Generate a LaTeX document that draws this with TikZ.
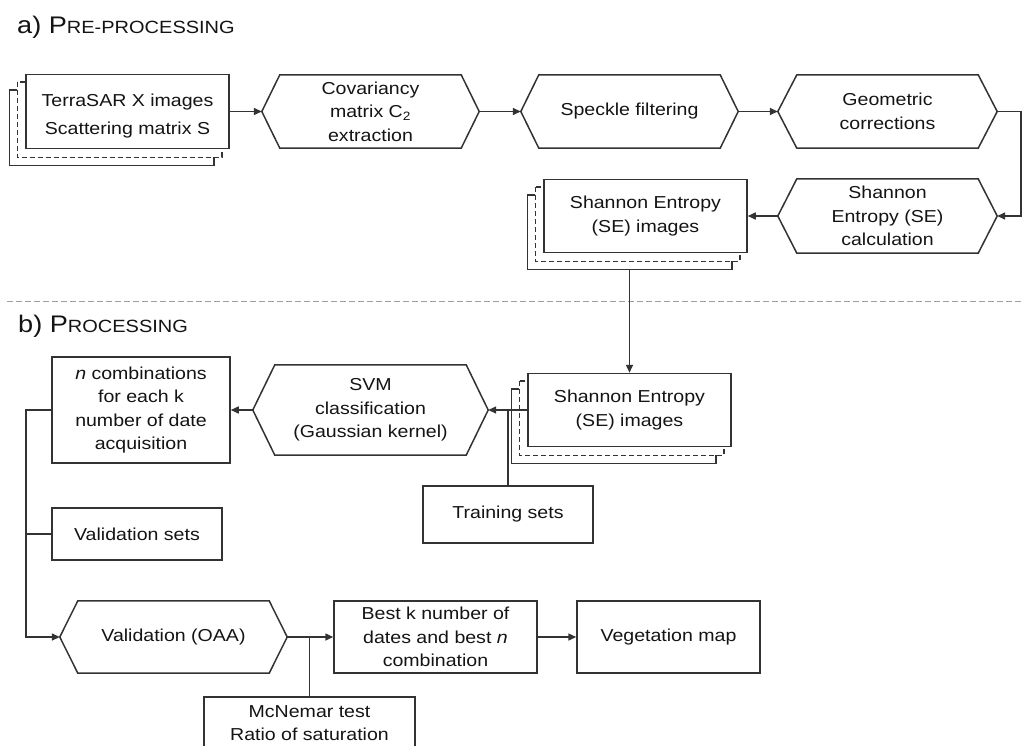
\documentclass[tikz,border=0pt]{standalone}
\usepackage{fontspec}
\setmainfont{Liberation Sans}[FakeStretch=1.13]
\usetikzlibrary{arrows.meta,calc,backgrounds}
\newcommand\bodyfont{\fontsize{17.3}{23.5}\selectfont}
\tikzset{
 ln/.style={line width=1.5pt, draw=black!80},
 arr/.style={ln, -{Triangle[length=8pt,width=7pt]}},
 box/.style={ln, fill=white, rectangle, inner sep=0pt, align=center, text=black!92, font=\bodyfont},
 hexnode/.style={rectangle, inner sep=0pt, align=center, text=black!92, font=\bodyfont},
 sep/.style={line width=1.2pt, draw=black!38, dash pattern=on 6pt off 3pt},
 title/.style={anchor=base west, inner sep=0pt, text=black!92},
}
\newcommand\hexdraw[2]{\draw[ln] (#1.west) -- ([xshift=#2pt]#1.north west) -- ([xshift=-#2pt]#1.north east) -- (#1.east) -- ([xshift=-#2pt]#1.south east) -- ([xshift=#2pt]#1.south west) -- cycle;}
\newcommand\stacklayers[1]{%
 \begin{pgfonlayer}{background}
 \draw[ln, fill=white] ($(#1.north west)+(-16,16)$) rectangle ($(#1.south east)+(-16,16)$);
 \draw[ln, fill=white, dash pattern=on 5pt off 3pt] ($(#1.north west)+(-8,8)$) rectangle ($(#1.south east)+(-8,8)$);
 \end{pgfonlayer}}
\begin{document}
\begin{tikzpicture}[x=1pt, y=-1pt]
\useasboundingbox (0,0) rectangle (1024,745);
\clip (0,0) rectangle (1024,745);
\begin{pgfonlayer}{background}
\fill[white] (0,0) rectangle (1024,745);
\end{pgfonlayer}

% titles
\node[title] (ta-title) at (17,33.3) {{\fontsize{24}{28}\selectfont a) P}{\fontsize{17.7}{20}\selectfont RE-PROCESSING}};
\node[title] (tb-title) at (18,332) {{\fontsize{24}{28}\selectfont b) P}{\fontsize{17.7}{20}\selectfont ROCESSING}};
\draw[sep] (7,301.7) -- (1023,301.7);

% a) pre-processing
\node[box, minimum width=203pt, minimum height=74pt] (ta) at (127.5,111.5) {\rule{0pt}{22pt}TerraSAR X images\\[4.5pt]Scattering matrix S};
\stacklayers{ta}
\node[hexnode, minimum width=217pt, minimum height=73pt] (cov) at (370.5,111.5) {Covariancy\\matrix C\textsubscript{2}\\extraction};
\hexdraw{cov}{18}
\node[hexnode, minimum width=217pt, minimum height=73pt] (spk) at (629.5,111.5) {Speckle filtering};
\hexdraw{spk}{18}
\node[hexnode, minimum width=219pt, minimum height=73pt] (geo) at (887.5,111.5) {Geometric\\corrections};
\hexdraw{geo}{19}
\node[hexnode, minimum width=219pt, minimum height=74pt] (sec) at (887.5,216) {Shannon\\Entropy (SE)\\calculation};
\hexdraw{sec}{19}
\node[box, minimum width=203pt, minimum height=73pt] (se1) at (645.5,216) {Shannon Entropy\\(SE) images};
\stacklayers{se1}

% b) processing
\node[box, minimum width=203pt, minimum height=73pt] (se2) at (629.5,410) {Shannon Entropy\\(SE) images};
\stacklayers{se2}
\node[hexnode, minimum width=235pt, minimum height=90pt] (svm) at (370.5,410) {SVM\\classification\\(Gaussian kernel)};
\hexdraw{svm}{22}
\node[box, minimum width=178pt, minimum height=106pt] (ncomb) at (141,410) {\textit{n} combinations\\for each k\\number of date\\acquisition};
\node[box, minimum width=170pt, minimum height=57pt] (train) at (508,514.5) {Training sets};
\node[box, minimum width=170pt, minimum height=52pt] (vset) at (137,534) {Validation sets};
\node[hexnode, minimum width=227pt, minimum height=72pt] (val) at (173.5,637) {Validation (OAA)};
\hexdraw{val}{18}
\node[box, minimum width=203pt, minimum height=72pt] (best) at (435.5,637) {Best k number of\\dates and best \textit{n}\\combination};
\node[box, minimum width=183pt, minimum height=72pt] (veg) at (668.5,637) {Vegetation map};
\node[box, minimum width=211pt, minimum height=52pt] (mcn) at (309.5,723) {McNemar test\\Ratio of saturation};

% connectors
\draw[arr] (ta.east) -- (cov.west);
\draw[arr] (cov.east) -- (spk.west);
\draw[arr] (spk.east) -- (geo.west);
\draw[arr] (geo.east) -- ++(24,0) |- (sec.east);
\draw[arr] (sec.west) -- (se1.east);
\draw[arr] ($(se1.south)+(-16,16)$) -- (se2.north);
\draw[arr] (se2.west) -- (svm.east);
\draw[ln] (train.north) -- (train.north |- se2.west);
\draw[arr] (svm.west) -- (ncomb.east);
\coordinate (jl) at (26,410);
\draw[arr] (ncomb.west) -- (jl) |- (val.west);
\draw[ln] (jl |- vset.west) -- (vset.west);
\draw[arr] (val.east) -- (best.west);
\draw[ln] (mcn.north) -- (mcn.north |- val.east);
\draw[arr] (best.east) -- (veg.west);
\end{tikzpicture}
\end{document}
